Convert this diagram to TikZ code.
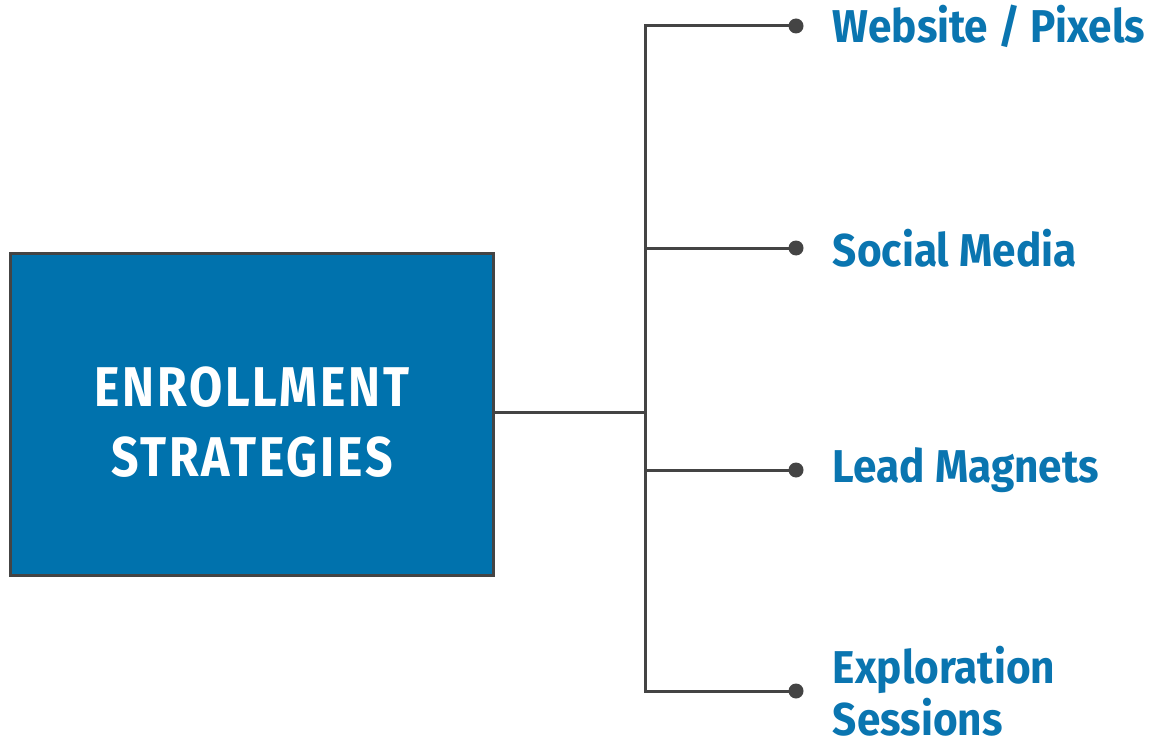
\documentclass[tikz,border=0pt]{standalone}
\usepackage{fontspec}
\setmainfont{Fira Sans}
\newfontfamily\labfont[FakeStretch=0.92]{Fira Sans}
\newfontfamily\boxfont[FakeStretch=0.86,LetterSpace=5]{Fira Sans}
\usetikzlibrary{positioning}
\definecolor{esblue}{HTML}{0072AD}
\definecolor{eslabel}{HTML}{0A75B0}
\definecolor{esline}{HTML}{444444}
\tikzset{box/.style={draw=esline,line width=3pt,fill=esblue,minimum width=483pt,minimum height=322pt}}
\tikzset{boxtext/.style={text=white,align=center,inner sep=0pt,font=\boxfont\bfseries\fontsize{56}{70}\selectfont}}
\tikzset{br/.style={esline,line width=3pt}}
\tikzset{dot/.style={circle,fill=esline,inner sep=0pt,minimum size=15pt}}
\tikzset{lab/.style={text=eslabel,inner sep=0pt,align=left,font=\labfont\bfseries\fontsize{46}{52}\selectfont}}

\begin{document}
\begin{tikzpicture}[x=1pt, y=-1pt, node distance=29pt]
        \useasboundingbox (0,0) rectangle (1151,746);
        \node[box] (ES) at (252,414.5) {};
        \node[boxtext] (EST) at ([yshift=-8pt]ES.center) {ENROLLMENT\\STRATEGIES};
        \coordinate (J) at (645,412);
        \node[dot] (D1) at (796,26) {};
        \node[dot] (D2) at (796,248) {};
        \node[dot] (D3) at (796,470) {};
        \node[dot] (D4) at (796,691) {};
        \node[lab, right=of D1] (L1) {Website / Pixels};
        \node[lab, right=of D2] (L2) {Social Media};
        \node[lab, right=of D3] (L3) {Lead Magnets};
        \node[lab, right=of D4] (L4) {Exploration\\Sessions};
        \draw[br] (ES.east |- J) -- (J);
        \draw[br] (D1.center) -| (J);
        \draw[br] (D2.center) -| (J);
        \draw[br] (D3.center) -| (J);
        \draw[br] (D4.center) -| (J);
    \end{tikzpicture}
\end{document}
